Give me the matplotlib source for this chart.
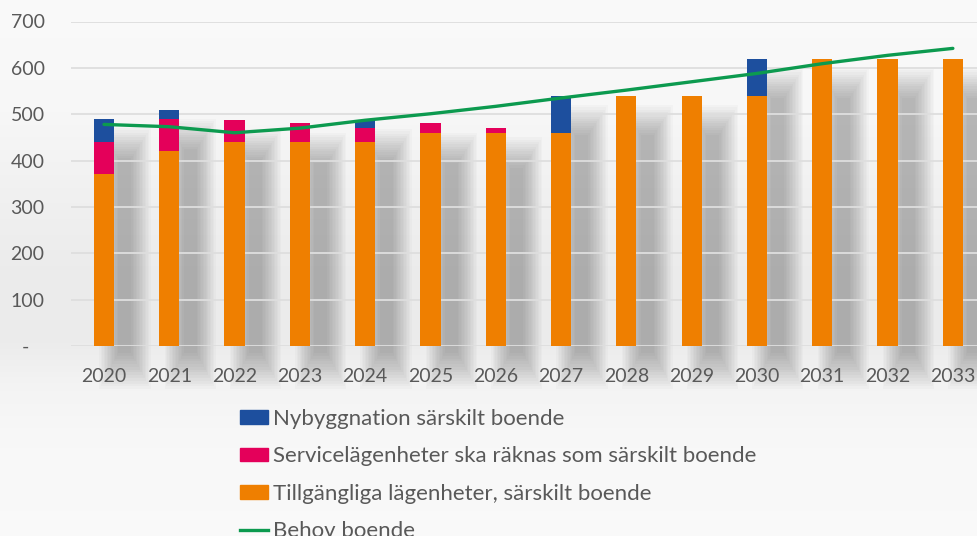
import numpy as np
import matplotlib
matplotlib.use("Agg")
import matplotlib.pyplot as plt
from matplotlib.patches import Patch
from matplotlib.lines import Line2D

years = ["2020", "2021", "2022", "2023", "2024", "2025", "2026",
         "2027", "2028", "2029", "2030", "2031", "2032", "2033"]
tillgangliga = [370, 420, 440, 440, 440, 460, 460, 460, 540, 540, 540, 620, 620, 620]
service = [70, 70, 48, 40, 30, 20, 10, 0, 0, 0, 0, 0, 0, 0]
nybyggnation = [50, 20, 0, 0, 18, 0, 0, 80, 0, 0, 80, 0, 0, 0]
behov = [478, 473, 460, 470, 487, 501, 517, 535, 552, 570, 588, 609, 627, 642]
yticks = [0, 100, 200, 300, 400, 500, 600, 700]
ytick_labels = ["-   ", "100", "200", "300", "400", "500", "600", "700"]

labels = ["Nybyggnation särskilt boende",
          "Servicelägenheter ska räknas som särskilt boende",
          "Tillgängliga lägenheter, särskilt boende",
          "Behov boende"]

c_blue = "#1d4f9e"
c_pink = "#e4005a"
c_orange = "#ef7f00"
c_green = "#0c9a4f"
c_text = "#595959"

plt.rcParams['font.family'] = ['Lato', 'DejaVu Sans']

W, H = 978, 536
fig = plt.figure(figsize=(W / 100, H / 100), dpi=100)
fig.patch.set_facecolor("#f9f9f9")

# smooth soft background shading (vertical gradient)
bg = fig.add_axes([0, 0, 1, 1], zorder=-10)
ys = np.linspace(0, 1, 400)
stops_y = [0.0, 0.18, 0.28, 0.36, 0.5, 0.65, 0.8, 1.0]
stops_v = [0.978, 0.972, 0.955, 0.925, 0.925, 0.945, 0.97, 0.98]
g = np.interp(ys, stops_y, stops_v)
img = np.repeat(g[:, None, None], 3, axis=2)
bg.imshow(img, extent=[0, 1, 0, 1], aspect="auto", origin="lower",
          interpolation="bilinear")
bg.set_xlim(0, 1)
bg.set_ylim(0, 1)
bg.axis("off")

ax = fig.add_axes([71 / W, (H - 346) / H, (W - 71) / W, (346 - 21.5) / H])
ax.set_facecolor("none")
x = np.arange(len(years))

tot_o = np.array(tillgangliga, dtype=float)
tot_p = tot_o + np.array(service)
tot_b = tot_p + np.array(nybyggnation)

# soft drop shadow beside each bar
N = 14
for j in range(N):
    top = tot_b - 85 + 5 * j
    bot = -15 - 6 * j
    ax.bar(x + 0.32, top - bot, width=0.2 + 0.045 * j, bottom=bot,
           color="black", alpha=0.018, linewidth=0, zorder=0.2, clip_on=False)

ax.set_yticks(yticks)
ax.set_yticklabels(ytick_labels)
ax.grid(axis="y", color="#dedede", linewidth=1.3)
ax.set_axisbelow(True)

bw = 0.31
ax.bar(x, tillgangliga, width=bw, color=c_orange, zorder=3, linewidth=0)
ax.bar(x, service, width=bw, bottom=tot_o, color=c_pink, zorder=3, linewidth=0)
ax.bar(x, nybyggnation, width=bw, bottom=tot_p, color=c_blue, zorder=3, linewidth=0)
ax.plot(x, behov, color=c_green, linewidth=2.4, zorder=4, solid_capstyle="round")

ax.set_xlim(-0.505, 13.385)
ax.set_ylim(0, 700)
ax.set_xticks(x)
ax.set_xticklabels(years)
for s in ax.spines.values():
    s.set_visible(False)
ax.tick_params(axis="both", length=0, labelsize=14, labelcolor=c_text)
ax.tick_params(axis="y", pad=19)
ax.tick_params(axis="x", pad=15.5)

handles = [Patch(color=c_blue), Patch(color=c_pink), Patch(color=c_orange),
           Line2D([0], [0], color=c_green, linewidth=2.4)]
fig.legend(handles, labels, loc="upper left", bbox_to_anchor=(240 / W, 1 - 409 / H),
           frameon=False, fontsize=16.0, labelcolor=c_text, handlelength=1.25,
           handleheight=0.55, handletextpad=0.25, labelspacing=0.78, borderpad=0,
           borderaxespad=0)

fig.savefig("out.png", dpi=100, facecolor=fig.get_facecolor())
